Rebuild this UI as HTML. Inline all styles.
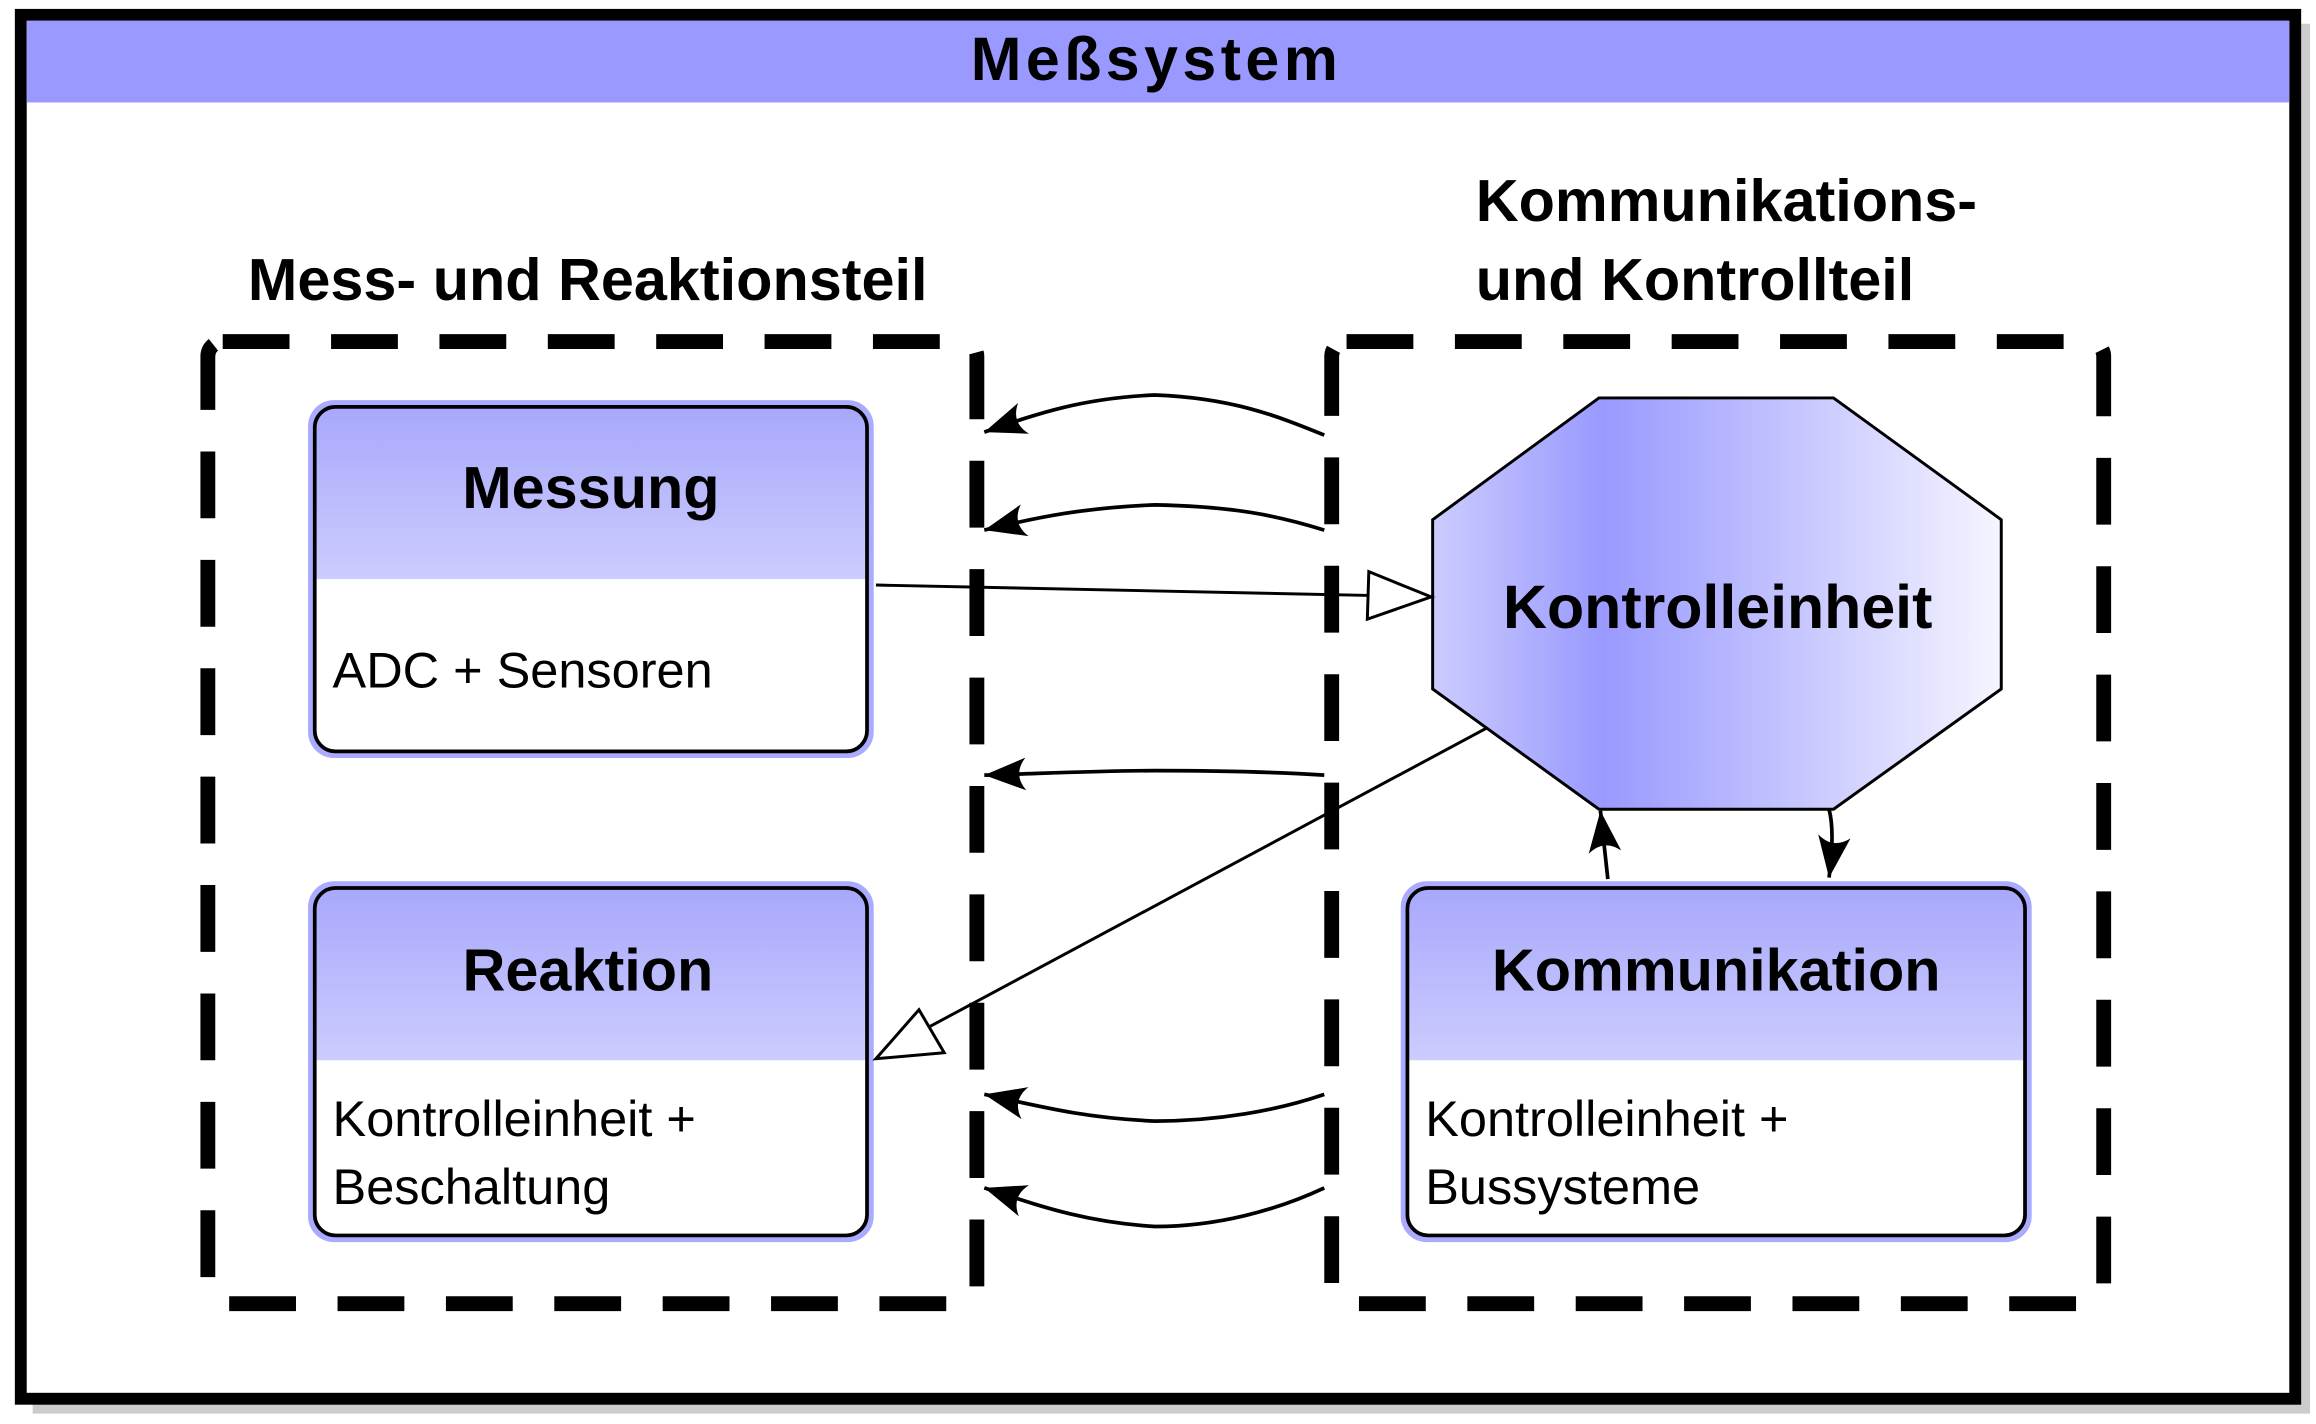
<!DOCTYPE html>
<html><head><meta charset="utf-8"><style>html,body{margin:0;padding:0;background:#fff}svg{display:block}</style></head><body>
<svg width="2316" height="1424" viewBox="0 0 1560 959" preserveAspectRatio="none" xmlns="http://www.w3.org/2000/svg" font-family="'Liberation Sans', 'DejaVu Sans', sans-serif">
<defs>
<linearGradient id="hg" x1="0" y1="0" x2="0" y2="1"><stop offset="0" stop-color="#a8a8fb"/><stop offset="1" stop-color="#ccccff"/></linearGradient>
<linearGradient id="og" x1="0" y1="0" x2="1" y2="0"><stop offset="0" stop-color="#ccccff"/><stop offset="0.3" stop-color="#9999ff"/><stop offset="1" stop-color="#f5f5ff"/></linearGradient>
<marker id="ah" markerWidth="32" markerHeight="24" viewBox="-30 -12 32 24" refX="0" refY="0" orient="auto" markerUnits="userSpaceOnUse"><path d="M0,0 L-28,-11 Q-19,0 -28,11 Z" fill="#000"/></marker>
</defs>
<rect x="22" y="16" width="1534" height="936" fill="#ccc"/>
<rect x="14" y="10" width="1532" height="932" fill="#fff" stroke="#000" stroke-width="8"/>
<rect x="18" y="14" width="1524" height="55" fill="#9999ff"/>
<text x="779" y="54" font-size="41" font-weight="bold" text-anchor="middle" letter-spacing="3">Meßsystem</text>
<text x="167" y="202" font-size="40" font-weight="bold">Mess- und Reaktionsteil</text>
<text x="994" y="149" font-size="40" font-weight="bold">Kommunikations-</text>
<text x="994" y="202" font-size="40" font-weight="bold">und Kontrollteil</text>
<rect x="140" y="230" width="518" height="648" rx="10" fill="none" stroke="#000" stroke-width="10" stroke-dasharray="45,28"/>
<rect x="897" y="230" width="520" height="648" rx="10" fill="none" stroke="#000" stroke-width="10" stroke-dasharray="45,28"/>
<g>
<rect x="210" y="272" width="376" height="236" rx="15" fill="none" stroke="#aaaaff" stroke-width="5"/>
<path d="M226,274 H570 Q584,274 584,288 V390 H212 V288 Q212,274 226,274Z" fill="url(#hg)"/>
<rect x="212" y="274" width="372" height="232" rx="14" fill="none" stroke="#000" stroke-width="2.5"/>
<text x="398" y="342" font-size="40" font-weight="bold" text-anchor="middle">Messung</text>
<text x="224" y="463" font-size="34">ADC + Sensoren</text>
</g>
<g>
<rect x="210" y="596" width="376" height="238" rx="15" fill="none" stroke="#aaaaff" stroke-width="5"/>
<path d="M226,598 H570 Q584,598 584,612 V714 H212 V612 Q212,598 226,598Z" fill="url(#hg)"/>
<rect x="212" y="598" width="372" height="234" rx="14" fill="none" stroke="#000" stroke-width="2.5"/>
<text x="396" y="667" font-size="40" font-weight="bold" text-anchor="middle">Reaktion</text>
<text x="224" y="765" font-size="34">Kontrolleinheit +</text>
<text x="224" y="811" font-size="34">Beschaltung</text>
</g>
<g>
<rect x="946" y="596" width="420" height="238" rx="15" fill="none" stroke="#aaaaff" stroke-width="5"/>
<path d="M962,598 H1350 Q1364,598 1364,612 V714 H948 V612 Q948,598 962,598Z" fill="url(#hg)"/>
<rect x="948" y="598" width="416" height="234" rx="14" fill="none" stroke="#000" stroke-width="2.5"/>
<text x="1156" y="667" font-size="40" font-weight="bold" text-anchor="middle">Kommunikation</text>
<text x="960" y="765" font-size="34">Kontrolleinheit +</text>
<text x="960" y="811" font-size="34">Bussysteme</text>
</g>
<polygon points="1077,268 1235,268 1348,350 1348,464 1235,545 1077,545 965,464 965,350" fill="url(#og)" stroke="#000" stroke-width="2"/>
<text x="1157" y="423" font-size="41" font-weight="bold" text-anchor="middle">Kontrolleinheit</text>
<g fill="none" stroke="#000" stroke-width="2.5" marker-end="url(#ah)">
<path d="M892,293 C860,280 830,268 778,266 C730,268 700,278 663,291"/>
<path d="M892,357 C860,347 830,341 778,340 C730,342 700,348 663,357"/>
<path d="M892,522 C860,520 820,519 778,519 C740,519 700,521 663,522"/>
<path d="M892,737 C860,748 820,755 778,755 C730,753 700,745 663,737"/>
<path d="M892,800 C860,815 820,826 778,826 C730,823 700,812 663,800"/>
<path d="M1083,592 L1078,546"/>
<path d="M1232,545 Q1236,560 1232,591"/>
</g>
<g fill="none" stroke="#000" stroke-width="2">
<path d="M590,394 L922,401"/>
<path d="M922,385 L964,402 L921,417 Z" fill="#fff"/>
<path d="M1002,490 L625,692"/>
<path d="M619,680 L590,713 L636,709 Z" fill="#fff"/>
</g>
</svg>
</body></html>
